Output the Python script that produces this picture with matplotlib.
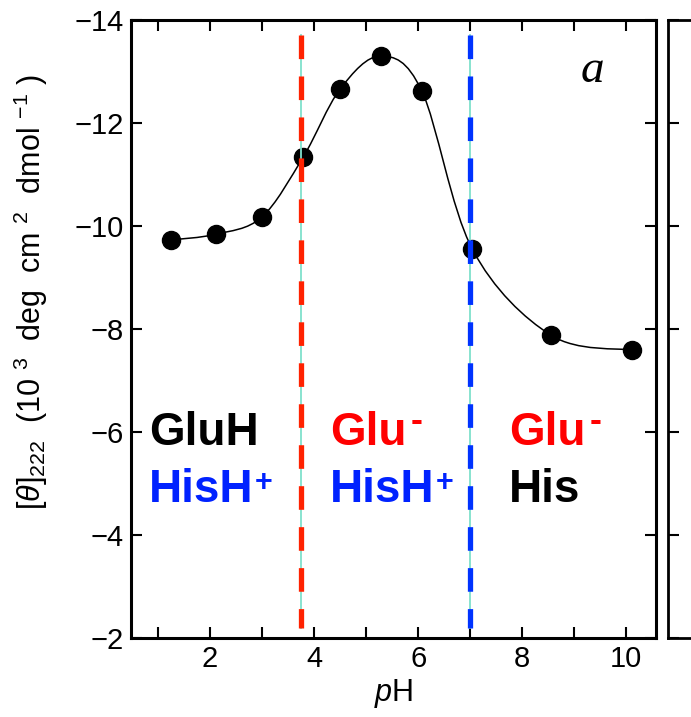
import numpy as np
import matplotlib
matplotlib.use("Agg")
import matplotlib.pyplot as plt
from matplotlib.path import Path
from matplotlib.patches import PathPatch
from matplotlib.ticker import MultipleLocator

# data
ph = [1.25, 2.11, 2.99, 3.79, 4.50, 5.28, 6.07, 7.04, 8.55, 10.1]
theta = [-9.73, -9.84, -10.17, -11.34, -12.66, -13.30, -12.62, -9.55, -7.88, -7.59]

pka_x = [3.75, 7.0]
pka_colors = ["#ff2200", "#0033ff"]
pka_span = [-13.7, -2.2]

labels_top = ["GluH", "Glu", "Glu"]
labels_top_sup = ["", "-", "-"]
labels_top_colors = ["black", "red", "red"]
labels_bot = ["HisH", "HisH", "His"]
labels_bot_sup = ["+", "+", ""]
labels_bot_colors = ["#0022ff", "#0022ff", "black"]
label_x = [0.83, 4.31, 7.75]

plt.rcParams["font.family"] = ["Liberation Sans", "DejaVu Sans"]
plt.rcParams["mathtext.fontset"] = "custom"
plt.rcParams["mathtext.rm"] = "Liberation Sans"
plt.rcParams["mathtext.it"] = "Liberation Sans:italic"
plt.rcParams["lines.scale_dashes"] = False

fig = plt.figure(figsize=(6.91, 7.17), dpi=100)
ax = fig.add_axes([131/691, 79/717, 525/691, 618/717])

ax.set_xlim(0.48, 10.57)
ax.set_ylim(-2, -14)

# smooth curve through the points (Catmull-Rom as cubic Bezier)
pts = np.column_stack([ph, theta])
verts = [tuple(pts[0])]
codes = [Path.MOVETO]
n = len(pts)
for i in range(n - 1):
    p0 = pts[i - 1] if i > 0 else pts[i]
    p1 = pts[i]
    p2 = pts[i + 1]
    p3 = pts[i + 2] if i + 2 < n else pts[i + 1]
    c1 = p1 + (p2 - p0) / 6.0
    c2 = p2 - (p3 - p1) / 6.0
    verts += [tuple(c1), tuple(c2), tuple(p2)]
    codes += [Path.CURVE4] * 3
ax.add_patch(PathPatch(Path(verts, codes), facecolor="none", edgecolor="black", lw=1.1, zorder=3))
ax.plot(ph, theta, "o", color="black", markersize=13, zorder=4)

for xv, c in zip(pka_x, pka_colors):
    ax.plot([xv, xv], pka_span, color="#7fe0cc", lw=1.3, zorder=5)
    ax.plot([xv, xv], pka_span, color=c, lw=3.8, dashes=(17, 12.5), zorder=6)

for i in range(3):
    t1 = ax.text(label_x[i], -5.75, labels_top[i], color=labels_top_colors[i],
                 fontsize=33, fontweight="bold", ha="left", va="baseline")
    if labels_top_sup[i]:
        ax.annotate(labels_top_sup[i], xy=(1, 1), xycoords=t1, xytext=(3, 5),
                    textcoords="offset points", color=labels_top_colors[i],
                    fontsize=26, fontweight="bold", ha="left", va="top")
    t2 = ax.text(label_x[i], -4.64, labels_bot[i], color=labels_bot_colors[i],
                 fontsize=33, fontweight="bold", ha="left", va="baseline")
    if labels_bot_sup[i]:
        ax.annotate(labels_bot_sup[i], xy=(1, 1), xycoords=t2, xytext=(1, 0),
                    textcoords="offset points", color=labels_bot_colors[i],
                    fontsize=22, fontweight="bold", ha="left", va="top")

ax.text(9.34, -12.8, "a", fontsize=34, style="italic", family="Liberation Serif",
        ha="center", va="baseline")

ax.xaxis.set_major_locator(MultipleLocator(2))
ax.xaxis.set_minor_locator(MultipleLocator(1))
ax.yaxis.set_major_locator(MultipleLocator(2))
ax.tick_params(which="both", direction="in", top=True, right=True, width=1.5)
ax.tick_params(which="major", length=8, labelsize=21, pad=5)
ax.tick_params(which="minor", length=8)
for s in ax.spines.values():
    s.set_linewidth(2.2)

ax.set_xlabel(r"$\mathit{p}$H", fontsize=22, labelpad=3)
ax.set_ylabel(r"$[\theta]_{222}$  (10 $^3$  deg  cm $^2$  dmol $^{-1}$ )",
              fontsize=22)
ax.yaxis.set_label_coords(-0.155, 0.56)

# edge of the neighbouring panel
ax2 = fig.add_axes([668/691, 79/717, 0.2, 618/717])
ax2.set_ylim(-2, -14)
ax2.set_xlim(0, 1)
ax2.yaxis.set_major_locator(MultipleLocator(2))
ax2.set_xticks([])
ax2.tick_params(axis="y", direction="in", length=8, width=1.5, labelleft=False)
for s in ax2.spines.values():
    s.set_linewidth(2.0)

fig.savefig("out.png", dpi=100)
